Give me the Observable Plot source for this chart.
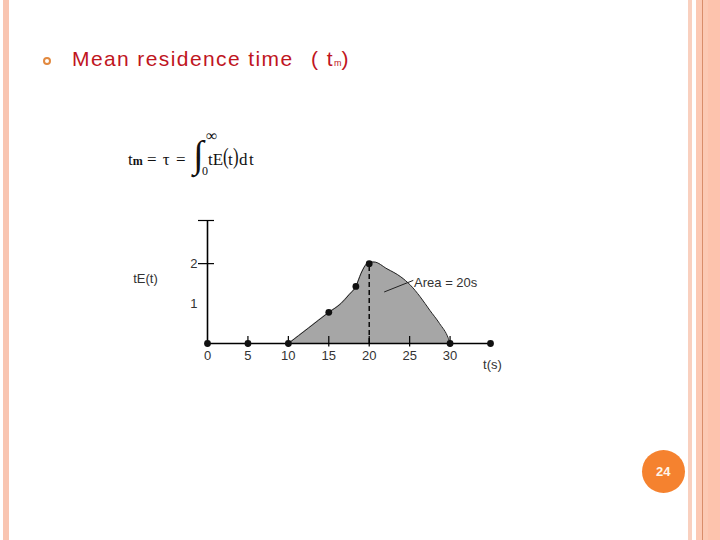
<!DOCTYPE html>
<html>
<head>
<meta charset="utf-8">
<script src="https://cdn.jsdelivr.net/npm/d3@7"></script>
<script src="https://cdn.jsdelivr.net/npm/@observablehq/plot@0.6"></script>
<style>
  html, body { margin: 0; padding: 0; background: #fff; }
  #page { position: relative; width: 720px; height: 540px; overflow: hidden; background: #fff; }
  .abs { position: absolute; }
  .serif { font-family: "Liberation Serif", "Times New Roman", serif; color: #111; line-height: 1; white-space: pre; }
</style>
</head>
<body>
<div id="page">
  <div class="abs" style="left:3px;top:0;width:5.5px;height:540px;background:#f9c5b1"></div>
  <div class="abs" style="left:688px;top:0;width:3.7px;height:540px;background:#f9d0bf"></div>
  <div class="abs" style="left:696px;top:0;width:24px;height:540px;background:#fcc9b4"></div>
  <div class="abs" style="left:708px;top:0;width:12px;height:540px;background:#fdc3ad"></div>
  <div class="abs" style="left:701.7px;top:0;width:1.2px;height:540px;background:#d98d6a"></div>

  <div class="abs" style="left:43.3px;top:56.7px;width:8px;height:8px;box-sizing:border-box;border:2.2px solid #e2893f;border-radius:50%"></div>
  <div class="abs" style="left:72px;top:48px;font-family:'Liberation Sans',Arial,sans-serif;font-size:21px;line-height:1;letter-spacing:1.4px;color:#c0151e;white-space:pre">Mean residence time  <span style="margin-left:3px">( t</span><span style="font-size:9px;letter-spacing:0">m</span>)</div>

  <div class="abs serif" style="left:128px;top:151px;font-size:17px">t<span style="font-size:12px;font-weight:bold">m</span></div>
  <div class="abs serif" style="left:147px;top:151px;font-size:17px;letter-spacing:1px">= τ =</div>
  <div class="abs serif" style="left:193px;top:135px;font-size:38px">∫</div>
  <div class="abs serif" style="left:206px;top:128px;font-size:16px">∞</div>
  <div class="abs serif" style="left:202px;top:165px;font-size:12px">0</div>
  <div class="abs serif" style="left:208px;top:151px;font-size:17px">tE</div>
  <div class="abs serif" style="left:223px;top:144px;font-size:24px;transform:scaleX(0.7);transform-origin:left">(</div>
  <div class="abs serif" style="left:228px;top:151px;font-size:17px">t</div>
  <div class="abs serif" style="left:233px;top:144px;font-size:24px;transform:scaleX(0.7);transform-origin:left">)</div>
  <div class="abs serif" style="left:239px;top:151px;font-size:17px;letter-spacing:1.5px">dt</div>

  <div id="chart" class="abs" style="left:110px;top:205px"></div>

  <div class="abs" style="left:641.6px;top:450px;width:43.4px;height:43.4px;border-radius:50%;background:#f5822f;color:#fff6ea;font-family:'Liberation Sans',Arial,sans-serif;font-weight:bold;font-size:13px;display:flex;align-items:center;justify-content:center">24</div>
</div>
<script>
// data
const curveT = [10, 12.5, 15, 16.5, 17.5, 18.35, 19, 19.5, 20, 20.6, 22.2, 23.9, 25.1, 26.3, 27.5, 28.7, 29.8, 30];
const curveV = [0, 0.39, 0.78, 1.0, 1.22, 1.43, 1.76, 1.95, 2.04, 2.04, 1.87, 1.67, 1.46, 1.17, 0.83, 0.5, 0.12, 0];
const dotT = [0, 5, 10, 15, 18.35, 20, 30, 35];
const dotV = [0, 0, 0, 0.78, 1.43, 2, 0, 0];
const xTicks = [5, 10, 15, 20, 25, 30];
const xLabels = [0, 5, 10, 15, 20, 25, 30];
const yTicks = [2, 3.08];
const yLabels = [1, 2];
const xExtent = [0, 35];
const yExtent = [0, 3.08];
const peakT = 20, peakV = 2;
const areaLabel = "Area = 20s";
const areaLabelT = 25.55, areaLabelV = 1.52;
const leaderT = [21.85, 25.45];
const leaderV = [1.29, 1.58];
const yTitle = "tE(t)";
const xTitle = "t(s)";

const curve = curveT.map((t, i) => ({t, v: curveV[i]}));
const dots = dotT.map((t, i) => ({t, v: dotV[i]}));

const W = 410, H = 180, mL = 97, mR = 30, mT = 15, mB = 42;
const frameW = W - mL - mR, frameH = H - mT - mB;

const chart = Plot.plot({
  width: W, height: H,
  marginLeft: mL, marginRight: mR, marginTop: mT, marginBottom: mB,
  x: {domain: xExtent},
  y: {domain: yExtent},
  style: {fontFamily: "'Liberation Sans', Arial, sans-serif", fontSize: "13px", color: "#333", background: "transparent", overflow: "visible"},
  marks: [
    Plot.areaY(curve, {x: "t", y: "v", fill: "#a6a6a6", curve: "monotone-x"}),
    Plot.line(curve, {x: "t", y: "v", stroke: "#222", strokeWidth: 1, curve: "monotone-x"}),
    Plot.ruleY([0], {x1: xExtent[0], x2: xExtent[1], stroke: "#000", strokeWidth: 1.6}),
    Plot.ruleX([0], {y1: yExtent[0], y2: yExtent[1], stroke: "#000", strokeWidth: 1.6}),
    Plot.tickX(xTicks, {x: d => d, stroke: "#000", strokeWidth: 1.2, insetTop: frameH - 7, insetBottom: -3.5}),
    Plot.tickY(yTicks, {y: d => d, stroke: "#000", strokeWidth: 1.2, insetLeft: -9, insetRight: frameW - 7}),
    Plot.ruleX([peakT], {y1: 0, y2: peakV, stroke: "#000", strokeWidth: 1.4, strokeDasharray: "5,3"}),
    Plot.axisX({ticks: xLabels, tickSize: 0, tickPadding: 7, label: null, fill: "#333", tickFormat: d => String(d)}),
    Plot.axisY({ticks: yLabels, tickSize: 0, tickPadding: 10, label: null, fill: "#333", tickFormat: d => String(d)}),
    Plot.dot(dots, {x: "t", y: "v", r: 3.4, fill: "#111", stroke: "none"}),
    Plot.link([{x1: leaderT[0], y1: leaderV[0], x2: leaderT[1], y2: leaderV[1]}], {x1: "x1", y1: "y1", x2: "x2", y2: "y2", stroke: "#222", strokeWidth: 1}),
    Plot.text([areaLabel], {x: areaLabelT, y: areaLabelV, text: d => d, textAnchor: "start", fill: "#333", fontSize: 13}),
    Plot.text([yTitle], {frameAnchor: "bottom-left", dx: -62, dy: -61, text: d => d, textAnchor: "middle", fill: "#333", fontSize: 13}),
    Plot.text([xTitle], {frameAnchor: "bottom-right", dx: 2, dy: 25, text: d => d, textAnchor: "middle", fill: "#333", fontSize: 13})
  ]
});
document.getElementById("chart").appendChild(chart);
</script>
</body>
</html>
